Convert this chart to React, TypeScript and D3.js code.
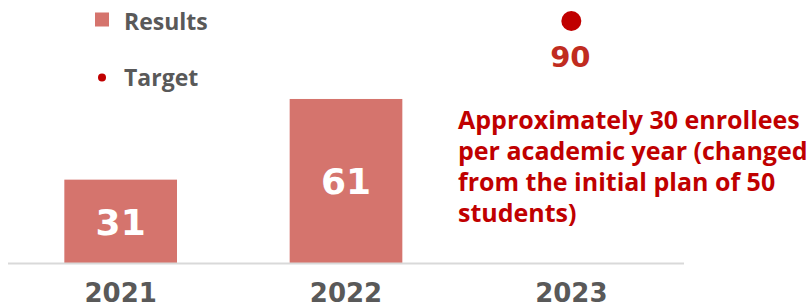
import React from "react";
import * as d3 from "d3";

const categories = ["2021", "2022", "2023"];
const results: (number | null)[] = [31, 61, null];
const targetYear = "2023";
const targetValue = 90;
const legendLabels = ["Results", "Target"];
const noteLines = [
  "Approximately 30 enrollees",
  "per academic year (changed",
  "from the initial plan of 50",
  "students)",
];

const W = 810;
const H = 307;
const BAR = "#D5746D";
const RED = "#C00000";
const GRAY = "#595959";
const NUMFONT = "'DejaVu Sans', Verdana, sans-serif";
const TXTFONT = "'Open Sans', 'Noto Sans', sans-serif";

export default function App() {
  const x = d3
    .scaleBand<string>()
    .domain(categories)
    .range([8, 684])
    .paddingInner(0.5)
    .paddingOuter(0.25);
  const y = d3.scaleLinear().domain([0, 90]).range([263, 21]);
  const base = y(0);

  return (
    <svg
      width={W}
      height={H}
      style={{ position: "absolute", left: 0, top: 0, display: "block" }}
    >
      <rect width={W} height={H} fill="#fff" />
      {/* legend */}
      <rect x={95} y={12.5} width={14} height={14} fill={BAR} />
      <text x={124} y={30} fontFamily={TXTFONT} fontWeight={700} fontSize={23} fill={GRAY}>
        {legendLabels[0]}
      </text>
      <circle cx={102} cy={77.5} r={4} fill={RED} />
      <text x={124} y={86} fontFamily={TXTFONT} fontWeight={700} fontSize={23} fill={GRAY}>
        {legendLabels[1]}
      </text>

      {/* bars */}
      {categories.map((c, i) => {
        const v = results[i];
        if (v == null) return null;
        const bx = x(c)!;
        const by = y(v);
        const mid = (by + base) / 2;
        return (
          <g key={c}>
            <rect x={bx} y={by} width={x.bandwidth()} height={base - by} fill={BAR} />
            <text
              x={bx + x.bandwidth() / 2}
              y={mid + 13.5}
              textAnchor="middle"
              fontFamily={NUMFONT}
              fontWeight={700}
              fontSize={36}
              fill="#fff"
            >
              {v}
            </text>
          </g>
        );
      })}

      {/* axis line */}
      <line x1={x.range()[0]} x2={x.range()[1]} y1={base + 0.5} y2={base + 0.5} stroke="#D9D9D9" strokeWidth={2} />

      {/* year labels */}
      {categories.map((c) => (
        <text
          key={c}
          x={x(c)! + x.bandwidth() / 2}
          y={302}
          textAnchor="middle"
          fontFamily={NUMFONT}
          fontWeight={700}
          fontSize={26}
          fill={GRAY}
        >
          {c}
        </text>
      ))}

      {/* target */}
      <circle cx={x(targetYear)! + x.bandwidth() / 2} cy={y(targetValue)} r={10} fill={RED} />
      <text
        x={x(targetYear)! + x.bandwidth() / 2 - 1}
        y={66.5}
        textAnchor="middle"
        fontFamily={NUMFONT}
        fontWeight={700}
        fontSize={29}
        fill="#C02B20"
      >
        {targetValue}
      </text>

      {/* note */}
      <text fontFamily={TXTFONT} fontWeight={700} fontSize={25} fill={RED}>
        {noteLines.map((l, i) => (
          <tspan key={i} x={458} y={129 + i * 31}>
            {l}
          </tspan>
        ))}
      </text>
    </svg>
  );
}
